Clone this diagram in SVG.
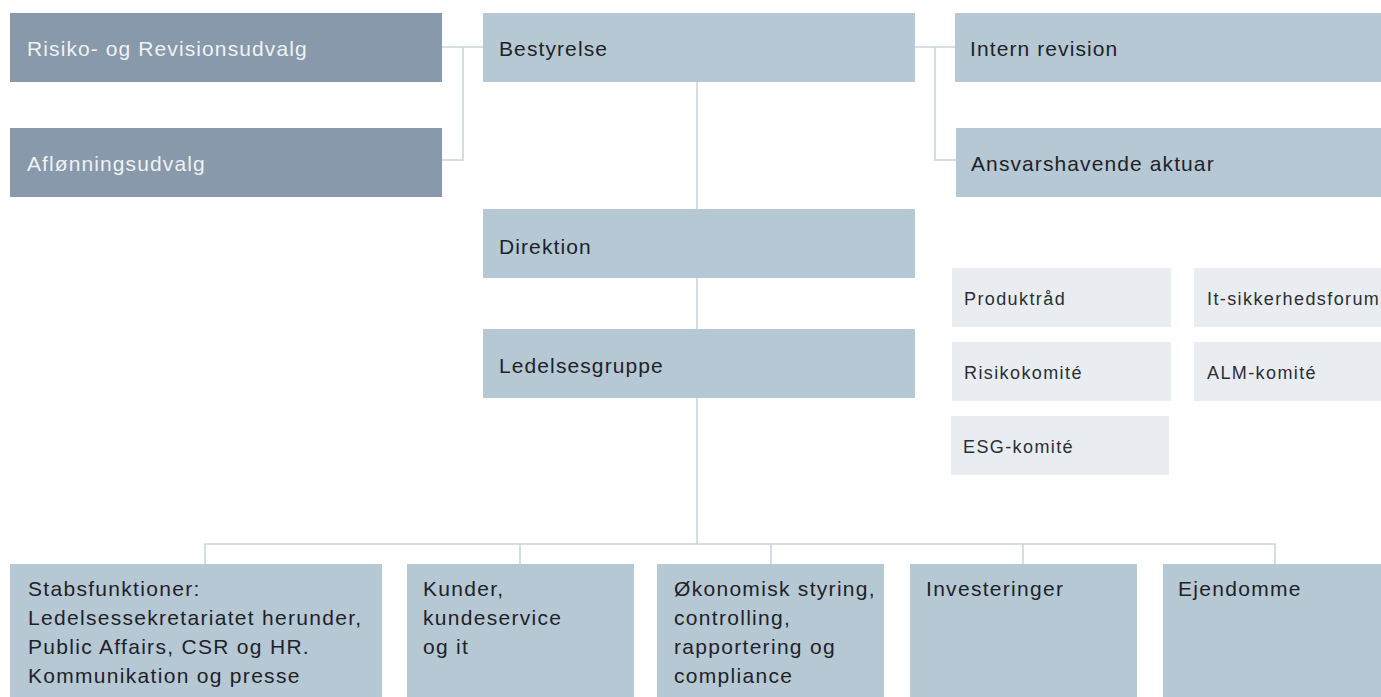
<svg xmlns="http://www.w3.org/2000/svg" width="1381" height="697" viewBox="0 0 1381 697">
<style>
.dark{fill:#8799aa}
.mid{fill:#b6c8d4}
.light{fill:#e9edf1}
.t{font-family:"Liberation Sans",Arial,sans-serif;font-size:21px;letter-spacing:1.1px;fill:#1e2328}
.tw{font-family:"Liberation Sans",Arial,sans-serif;font-size:21px;letter-spacing:1.1px;fill:#eef2f5}
.tb{font-family:"Liberation Sans",Arial,sans-serif;font-size:21px;letter-spacing:1.3px;fill:#1e2328}
.ts{font-family:"Liberation Sans",Arial,sans-serif;font-size:18px;letter-spacing:1.4px;fill:#2a2f34}
.c{fill:none;stroke:#c8d5de;stroke-width:1.6}
</style>
<rect width="1381" height="697" fill="#ffffff"/>
<g id="connectors">
<path class="c" d="M442 47 H483 M463 47 V160 H442"/>
<path class="c" d="M915 47 H955 M935 47 V160 H956"/>
<path class="c" d="M697 82 V544"/>
<path class="c" d="M205 564 V544 H1275 V564 M520 544 V564 M771 544 V564 M1023 544 V564"/>
</g>
<g id="risiko"><rect class="dark" x="10" y="13" width="432" height="69"/><text class="tw" x="27" y="56">Risiko- og Revisionsudvalg</text></g>
<g id="aflonning"><rect class="dark" x="10" y="128" width="432" height="69"/><text class="tw" x="27" y="171">Aflønningsudvalg</text></g>
<g id="bestyrelse"><rect class="mid" x="483" y="13" width="432" height="69"/><text class="t" x="499" y="56">Bestyrelse</text></g>
<g id="intern"><rect class="mid" x="955" y="13" width="426" height="69"/><text class="t" x="970" y="56">Intern revision</text></g>
<g id="aktuar"><rect class="mid" x="956" y="128" width="425" height="69"/><text class="t" x="971" y="171">Ansvarshavende aktuar</text></g>
<g id="direktion"><rect class="mid" x="483" y="209" width="432" height="69"/><text class="t" x="499" y="254">Direktion</text></g>
<g id="ledelsesgruppe"><rect class="mid" x="483" y="329" width="432" height="69"/><text class="t" x="499" y="373">Ledelsesgruppe</text></g>
<g id="produktraad"><rect class="light" x="952" y="268" width="219" height="59"/><text class="ts" x="964" y="305">Produktråd</text></g>
<g id="itsikkerhed"><rect class="light" x="1194" y="268" width="187" height="59"/><text class="ts" x="1207" y="305">It-sikkerhedsforum</text></g>
<g id="risikokomite"><rect class="light" x="952" y="342" width="219" height="59"/><text class="ts" x="964" y="379">Risikokomité</text></g>
<g id="almkomite"><rect class="light" x="1194" y="342" width="187" height="59"/><text class="ts" x="1207" y="379">ALM-komité</text></g>
<g id="esgkomite"><rect class="light" x="951" y="416" width="218" height="59"/><text class="ts" x="963" y="453">ESG-komité</text></g>
<g id="stabs"><rect class="mid" x="10" y="564" width="372" height="133"/><text class="tb" x="28"><tspan x="28" y="596">Stabsfunktioner:</tspan><tspan x="28" y="625">Ledelsessekretariatet herunder,</tspan><tspan x="28" y="654">Public Affairs, CSR og HR.</tspan><tspan x="28" y="683">Kommunikation og presse</tspan></text></g>
<g id="kunder"><rect class="mid" x="407" y="564" width="227" height="133"/><text class="tb"><tspan x="423" y="596">Kunder,</tspan><tspan x="423" y="625">kundeservice</tspan><tspan x="423" y="654">og it</tspan></text></g>
<g id="okonomi"><rect class="mid" x="657" y="564" width="227" height="133"/><text class="tb"><tspan x="674" y="596">Økonomisk styring,</tspan><tspan x="674" y="625">controlling,</tspan><tspan x="674" y="654">rapportering og</tspan><tspan x="674" y="683">compliance</tspan></text></g>
<g id="investeringer"><rect class="mid" x="910" y="564" width="227" height="133"/><text class="tb" x="926" y="596">Investeringer</text></g>
<g id="ejendomme"><rect class="mid" x="1163" y="564" width="218" height="133"/><text class="tb" x="1178" y="596">Ejendomme</text></g>
</svg>
